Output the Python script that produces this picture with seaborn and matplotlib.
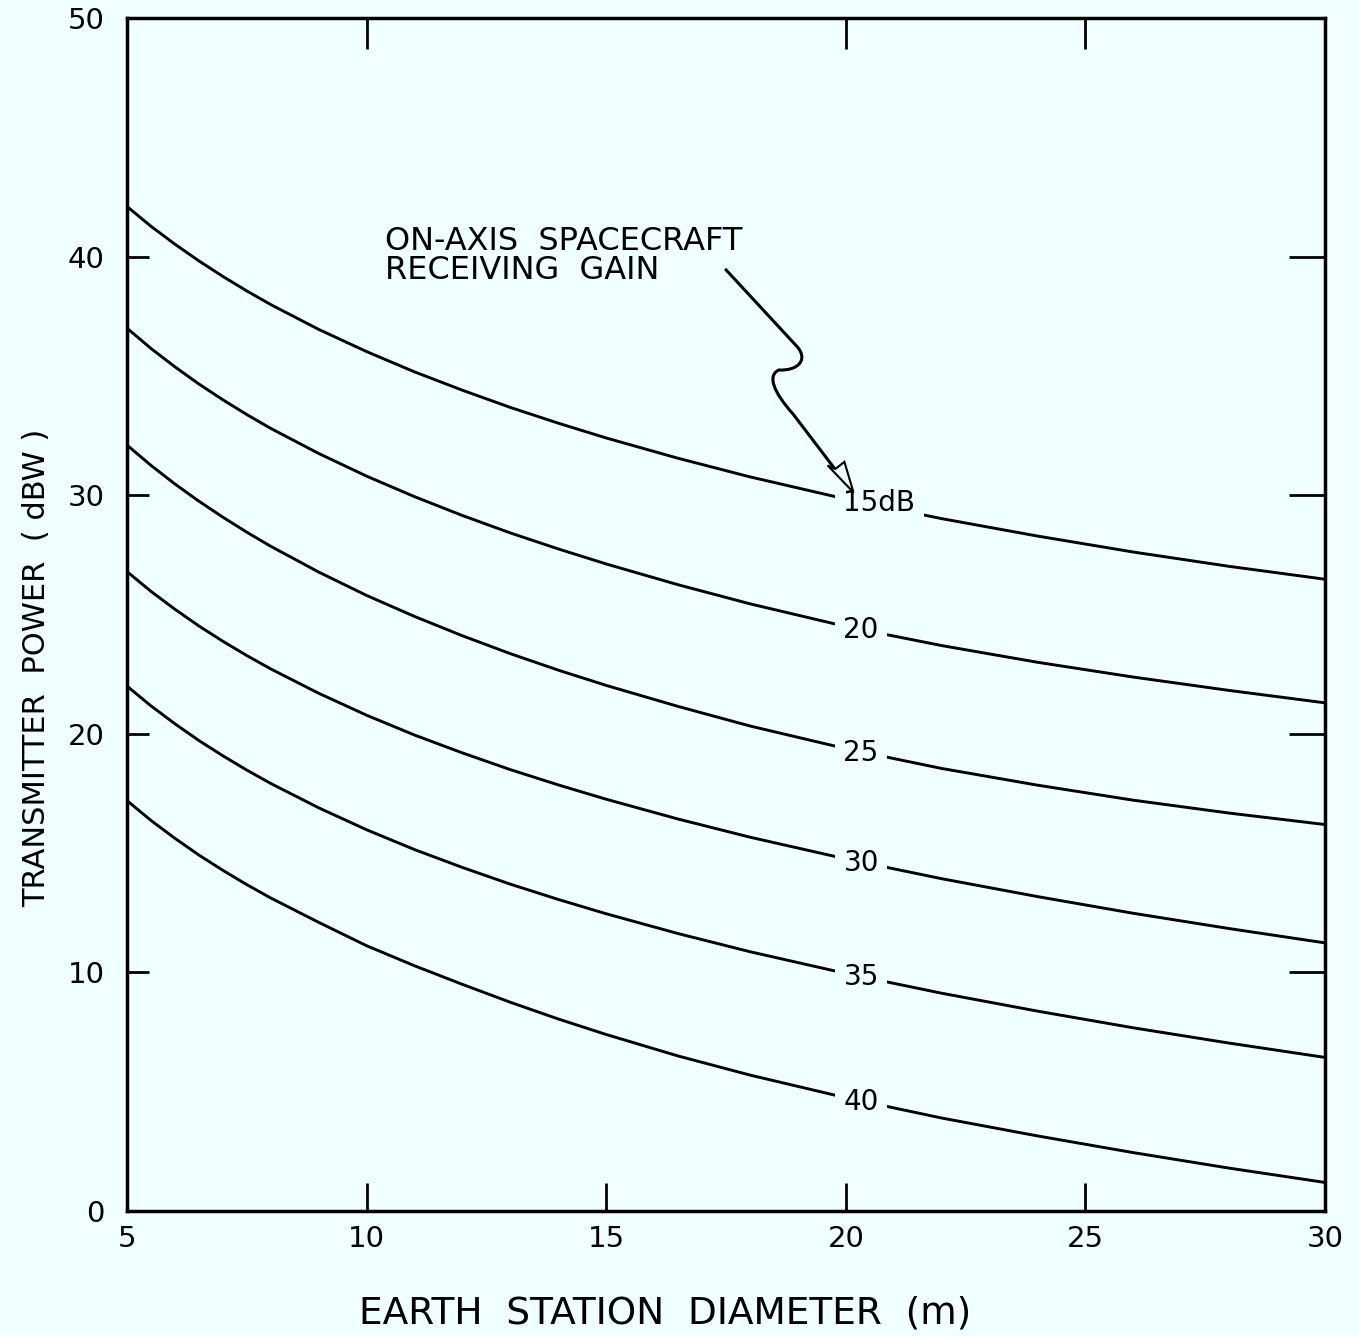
import numpy as np
import pandas as pd
import matplotlib
matplotlib.use("Agg")
import matplotlib.pyplot as plt
from matplotlib.path import Path
from matplotlib.patches import PathPatch, Polygon
import seaborn as sns

# ---- data ----
diameter = [5, 5.5, 6, 6.5, 7, 7.5, 8, 9, 10, 11, 12, 13, 14, 15, 16.5, 18, 20, 22, 24, 26, 28, 30]
gain_15 = [42.10, 41.27, 40.52, 39.82, 39.17, 38.56, 37.99, 36.95, 36.02, 35.17, 34.40,
           33.68, 33.02, 32.40, 31.55, 30.77, 29.84, 29.02, 28.29, 27.62, 27.02, 26.48]
gain_20 = [37.00, 36.15, 35.38, 34.66, 34.00, 33.38, 32.80, 31.75, 30.80, 29.94, 29.15,
           28.42, 27.75, 27.12, 26.25, 25.45, 24.50, 23.70, 23.00, 22.38, 21.82, 21.30]
gain_25 = [32.10, 31.25, 30.47, 29.75, 29.08, 28.45, 27.86, 26.78, 25.80, 24.92, 24.11,
           23.36, 22.67, 22.03, 21.15, 20.33, 19.38, 18.55, 17.85, 17.22, 16.68, 16.20]
gain_30 = [26.80, 25.97, 25.22, 24.52, 23.88, 23.28, 22.72, 21.70, 20.78, 19.95, 19.20,
           18.50, 17.86, 17.26, 16.43, 15.67, 14.76, 13.93, 13.18, 12.48, 11.84, 11.24]
gain_35 = [22.00, 21.17, 20.42, 19.72, 19.08, 18.48, 17.92, 16.90, 15.98, 15.15, 14.40,
           13.70, 13.06, 12.46, 11.63, 10.87, 9.96, 9.13, 8.38, 7.68, 7.04, 6.44]
gain_40 = [17.20, 16.37, 15.62, 14.92, 14.28, 13.68, 13.12, 12.10, 11.12, 10.28, 9.50,
           8.75, 8.05, 7.40, 6.50, 5.70, 4.75, 3.90, 3.15, 2.45, 1.80, 1.20]
curve_labels = ["15dB", "20", "25", "30", "35", "40"]
x_ticks = [5, 10, 15, 20, 25, 30]
y_ticks = [0, 10, 20, 30, 40, 50]

series = [gain_15, gain_20, gain_25, gain_30, gain_35, gain_40]
df = pd.concat(
    [pd.DataFrame({"diameter": diameter, "power": s, "gain": lab})
     for s, lab in zip(series, curve_labels)],
    ignore_index=True,
)

BG = "#f0ffff"
sns.set_theme(style="white")
plt.rcParams["font.family"] = ["DejaVu Sans"]

fig = plt.figure(figsize=(13.59, 13.36), dpi=100, facecolor=BG)
ax = fig.add_axes([0.0935, 0.0935, 0.8815, 0.893])
ax.set_facecolor(BG)

sns.lineplot(data=df, x="diameter", y="power", hue="gain",
             palette=["black"] * len(curve_labels), estimator=None,
             legend=False, linewidth=2.1, ax=ax)

ax.set_xlim(5, 30)
ax.set_ylim(0, 50)
ax.set_xticks(x_ticks)
ax.set_yticks(y_ticks)
ax.tick_params(axis="x", bottom=True, direction="in", length=20, width=2.0,
               color="black", labelsize=21, labelcolor="black", pad=10)
ax.tick_params(axis="y", left=True, direction="in", length=16, width=2.0,
               color="black", labelsize=21, labelcolor="black", pad=16)
for sp in ax.spines.values():
    sp.set_visible(True)
    sp.set_color("black")
    sp.set_linewidth(2.5)

top = ax.secondary_xaxis("top")
top.set_xticks([10, 20, 25])
top.set_xticklabels([])
top.tick_params(direction="in", length=22, width=2.0, color="black")
right = ax.secondary_yaxis("right")
right.set_yticks([10, 20, 30, 40])
right.set_yticklabels([])
right.tick_params(direction="in", length=26, width=2.0, color="black")

ax.set_xlabel("EARTH  STATION  DIAMETER  (m)", fontsize=27, color="black")
ax.set_ylabel("TRANSMITTER  POWER  ( dBW )", fontsize=22, color="black")
ax.xaxis.set_label_coords(0.449, -0.071)
ax.yaxis.set_label_coords(-0.063, 0.455)

# curve labels, breaking the lines
for s, lab in zip(series, curve_labels):
    yv = np.interp(20.4, diameter, s)
    ax.text(19.95, yv, lab, fontsize=20, ha="left", va="center", color="black",
            bbox=dict(boxstyle="square,pad=0.3", fc=BG, ec="none"), zorder=5)

# annotation text
ax.text(10.39, 41.3, "ON-AXIS  SPACECRAFT\nRECEIVING  GAIN", fontsize=23,
        ha="left", va="top", linespacing=0.95, color="black")

# squiggly arrow
verts = [(17.48, 39.49), (18.95, 36.3),
         (19.25, 35.7), (19.0, 35.2), (18.6, 35.25),
         (18.35, 35.0), (18.5, 34.3), (18.9, 33.4),
         (20.0, 30.5)]
codes = [Path.MOVETO, Path.LINETO,
         Path.CURVE4, Path.CURVE4, Path.CURVE4,
         Path.CURVE4, Path.CURVE4, Path.CURVE4,
         Path.LINETO]
ax.add_patch(PathPatch(Path(verts, codes), fc="none", ec="black", lw=2.2, zorder=6))
ax.add_patch(Polygon([(19.62, 31.25), (20.16, 30.12), (19.97, 31.4), (19.78, 31.1)],
                     closed=True, fc=BG, ec="black", lw=1.5, zorder=7))

fig.savefig("out.png", dpi=100, facecolor=BG)
